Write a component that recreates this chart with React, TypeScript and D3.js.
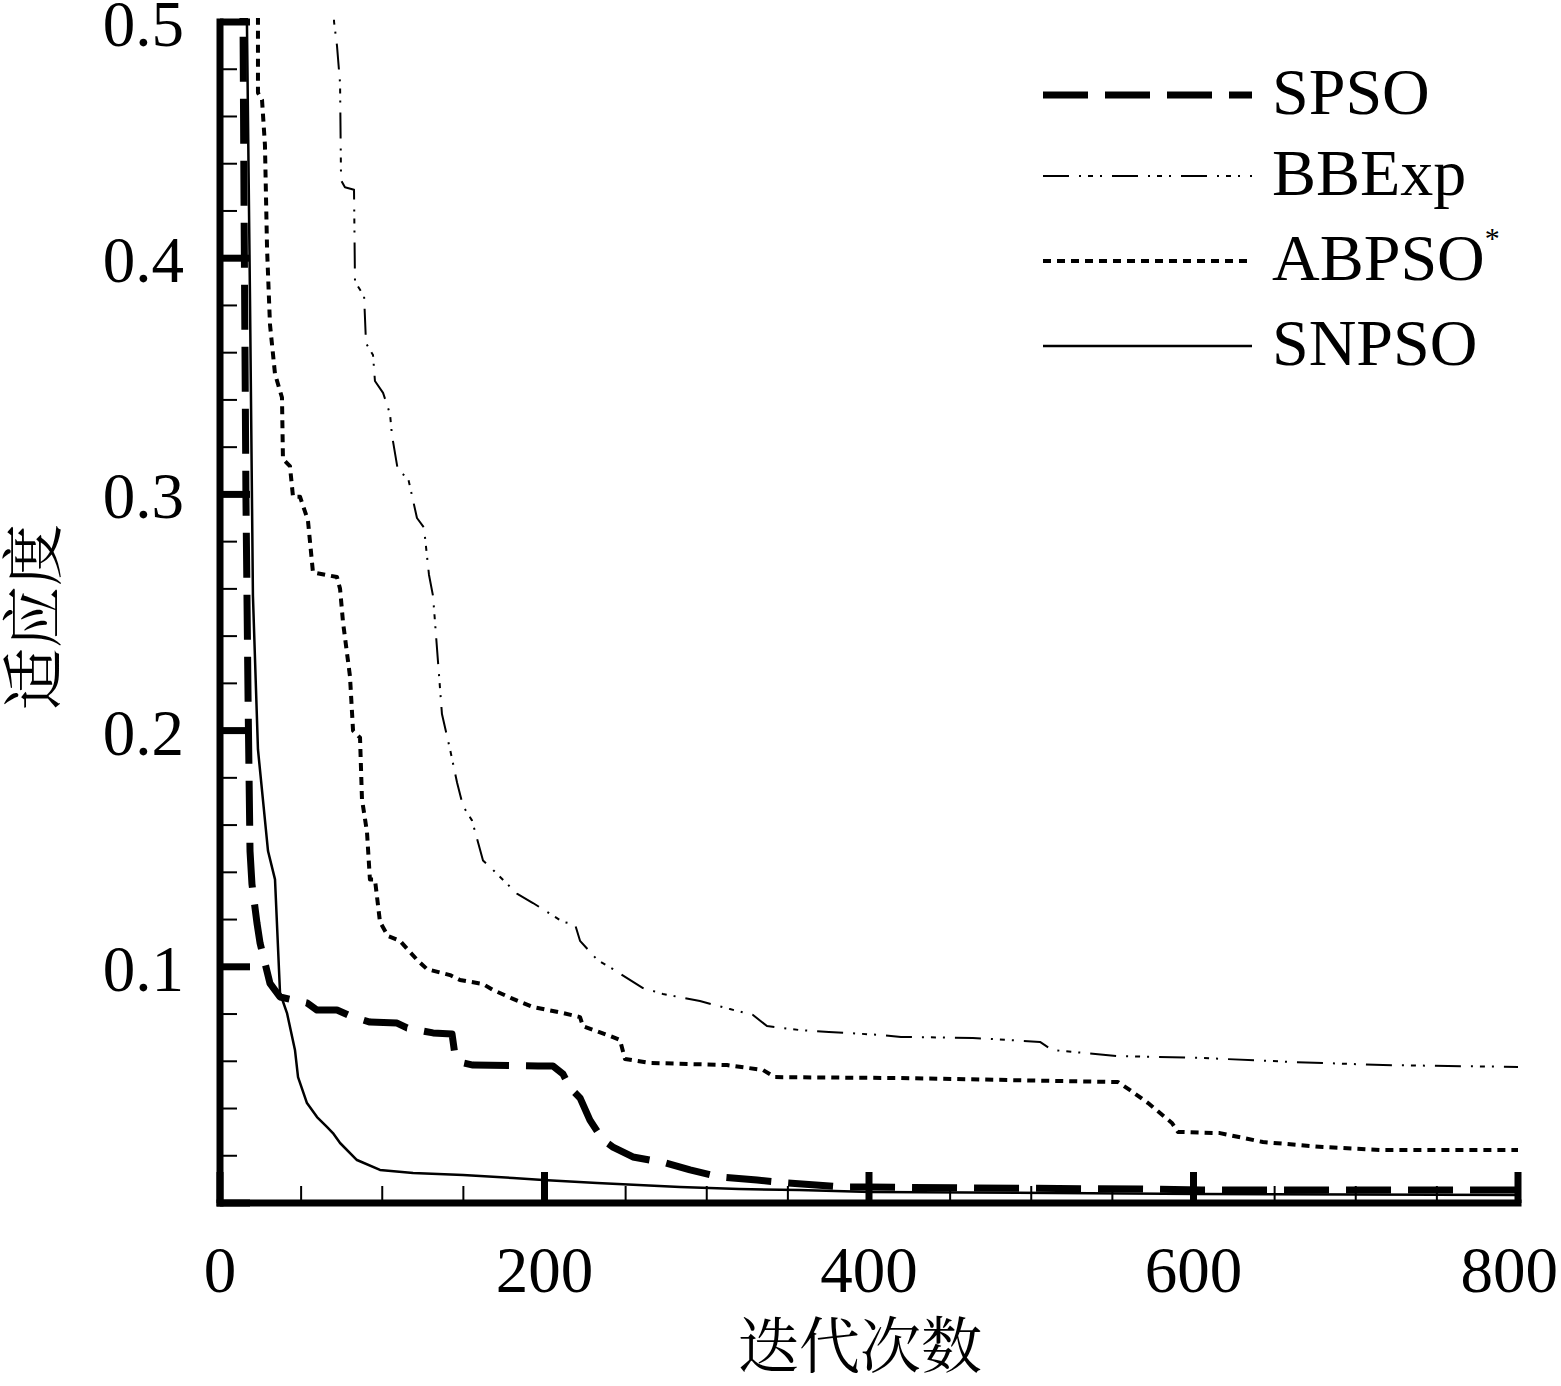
import React from "react";
import * as d3 from "d3";

// ---- data (iteration, fitness) ----
const xTickLabels = [0, 200, 400, 600, 800];
const yTickLabels = [0.1, 0.2, 0.3, 0.4, 0.5];
const seriesNames = ["SPSO", "BBExp", "ABPSO", "SNPSO"];

const spso: [number, number][] = [
  [13.5, 0.52], [14.2, 0.5], [14.8, 0.425], [16, 0.298], [17.3, 0.213], [18.5, 0.149],
  [19.7, 0.135], [22.8, 0.1185], [24.7, 0.11], [30.8, 0.093], [37, 0.0872],
  [53.6, 0.0847], [59.8, 0.0817], [72.1, 0.0817], [82, 0.0787], [92.4, 0.0766],
  [109.1, 0.0762], [115.3, 0.0741], [131.3, 0.072], [143, 0.0716], [144.8, 0.0627],
  [149.8, 0.0593], [155.9, 0.0584], [196, 0.058], [205.2, 0.058], [211.4, 0.0546],
  [215.7, 0.0487], [221.9, 0.0445], [228, 0.0351], [236, 0.0267], [242.2, 0.0237],
  [254.5, 0.0195], [274.9, 0.0169], [289.7, 0.014], [308.2, 0.011], [331, 0.0097],
  [349.5, 0.0085], [382.7, 0.0068], [399.4, 0.0068], [456.7, 0.0064], [568.3, 0.0059],
  [605.2, 0.0055], [800, 0.0055],
];

const bbexp: [number, number][] = [
  [69.5, 0.52], [70.3, 0.5], [72.1, 0.49], [74, 0.474], [74.6, 0.433], [77, 0.43],
  [82.6, 0.429], [83.2, 0.39], [88.8, 0.384], [90, 0.364], [94.3, 0.359], [95.5, 0.348],
  [100.5, 0.343], [104.8, 0.334], [106, 0.325], [109.7, 0.31], [115.9, 0.307],
  [121.4, 0.29], [125.7, 0.286], [128.8, 0.266], [131.3, 0.257], [136.8, 0.207],
  [141.8, 0.192], [146.1, 0.178], [149.8, 0.168], [155.3, 0.162], [162.1, 0.145],
  [168.3, 0.141], [183, 0.131], [192.9, 0.127], [211.4, 0.119], [218.8, 0.118],
  [221.9, 0.111], [232.4, 0.103], [242.2, 0.099], [260.7, 0.091], [273, 0.0885],
  [295.8, 0.0855], [314.3, 0.0821], [328.5, 0.0796], [337.1, 0.0749], [357.5, 0.0732],
  [375.3, 0.0724], [408.6, 0.0711], [419.7, 0.0703], [464, 0.0699], [505.4, 0.0682],
  [512.8, 0.0648], [553.5, 0.0622], [605.2, 0.0614], [661.3, 0.0597], [716.8, 0.0584],
  [800, 0.0576],
];

const abpso: [number, number][] = [
  [23.4, 0.52], [23.4, 0.47], [25.9, 0.467], [27.7, 0.448], [29, 0.404], [30.8, 0.372],
  [33.9, 0.351], [38.2, 0.341], [38.8, 0.315], [43.1, 0.312], [45, 0.299], [49.3, 0.299],
  [54.2, 0.289], [57.3, 0.267], [72.1, 0.265], [74, 0.26], [75.8, 0.246], [80.1, 0.223],
  [82, 0.2], [86.3, 0.197], [87.5, 0.171], [90.6, 0.157], [92.4, 0.137], [95.5, 0.137],
  [98.6, 0.119], [103.5, 0.113], [110.9, 0.111], [121.4, 0.103], [127.6, 0.099],
  [141.8, 0.0965], [147.9, 0.0944], [162.1, 0.0927], [168.3, 0.0902], [180.6, 0.0864],
  [192.9, 0.083], [211.4, 0.0804], [221.9, 0.0787], [223.7, 0.0749], [240.4, 0.0707],
  [246.5, 0.069], [249.6, 0.061], [265, 0.0593], [312.5, 0.0584], [334.7, 0.0563],
  [342, 0.0533], [419.7, 0.0529], [553.5, 0.0512], [560.9, 0.0478], [572, 0.0423],
  [586.7, 0.0339], [590.4, 0.0301], [616.3, 0.0296], [642.8, 0.0258], [679.8, 0.0237],
  [716.8, 0.0224], [800, 0.0224],
];

const snpso: [number, number][] = [
  [16.3, 0.52], [16.6, 0.5], [18.5, 0.382], [20.3, 0.257], [23.4, 0.192], [29.6, 0.149],
  [33.9, 0.137], [37, 0.0889], [41.3, 0.0804], [46.2, 0.0648], [48.1, 0.0533],
  [53.6, 0.0423], [59.8, 0.0364], [65.9, 0.0322], [69.6, 0.0296], [74, 0.0254],
  [84.4, 0.0182], [98.6, 0.014], [119, 0.0127], [149.8, 0.0119], [180.6, 0.0106],
  [199.1, 0.0097], [232.4, 0.0085], [283.5, 0.0068], [319.9, 0.0059], [356.9, 0.0055],
  [401.2, 0.0047], [604, 0.0038], [800, 0.0034],
];

const SERIF = "'Liberation Serif', 'Times New Roman', serif";
const CJK = "'Noto Serif CJK SC', 'Noto Sans CJK SC', serif";

const styles = [
  { data: spso, width: 7, dash: "45 17" },
  { data: bbexp, width: 2, dash: "26 10 2 7 5 7 2 10" },
  { data: abpso, width: 4, dash: "8 6" },
  { data: snpso, width: 2.5, dash: "" },
];

export default function App() {
  const W = 1561;
  const H = 1386;
  const x = d3.scaleLinear().domain([0, 800]).range([220, 1518]);
  const y = d3.scaleLinear().domain([0, 0.5]).range([1203, 22]);
  const line = d3
    .line<[number, number]>()
    .x((d) => x(d[0]))
    .y((d) => y(d[1]));

  const xMinor = d3.range(0, 801, 50);
  const yMinor = d3.range(0, 26).map((k) => +(k * 0.02).toFixed(2));

  const legendY = [95, 176, 261, 346];
  const lastX = xTickLabels[xTickLabels.length - 1];

  return (
    <svg
      width={W}
      height={H}
      style={{ position: "absolute", left: 0, top: 0, background: "#fff" }}
    >
      <defs>
        <clipPath id="plot">
          <rect x={220} y={18} width={1302} height={1190} />
        </clipPath>
      </defs>

      {/* series */}
      <g clipPath="url(#plot)" fill="none" stroke="#000">
        {styles.map((s, i) => (
          <path
            key={i}
            d={line(s.data) || ""}
            strokeWidth={s.width}
            strokeDasharray={s.dash || undefined}
            strokeLinejoin="round"
          />
        ))}
      </g>

      {/* ticks and axis lines */}
      <g stroke="#000">
        {xMinor.map((v) => {
          const major = v % 200 === 0;
          return (
            <line
              key={"x" + v}
              x1={x(v)}
              x2={x(v)}
              y1={1203}
              y2={major ? 1172 : 1186}
              strokeWidth={major ? 7 : 2}
            />
          );
        })}
        {yMinor.map((v) => {
          const major = Math.abs(v * 10 - Math.round(v * 10)) < 1e-6;
          return (
            <line
              key={"y" + v}
              x1={220}
              x2={major ? 250 : 237}
              y1={y(v)}
              y2={y(v)}
              strokeWidth={major ? 7 : 2}
            />
          );
        })}
        <line x1={220} x2={220} y1={18.5} y2={1206.5} strokeWidth={7} />
        <line x1={216.5} x2={1521.5} y1={1203} y2={1203} strokeWidth={7} />
      </g>

      {/* tick labels */}
      <g fontFamily={SERIF} fontSize={65} fill="#000">
        {xTickLabels.map((v) =>
          v === lastX ? (
            <text key={"xl" + v} x={W - 3} y={1292} textAnchor="end">
              {v}
            </text>
          ) : (
            <text key={"xl" + v} x={x(v)} y={1292} textAnchor="middle">
              {v}
            </text>
          )
        )}
        {yTickLabels.map((v) => (
          <text key={"yl" + v} x={184} y={y(v) + 24} textAnchor="end">
            {v.toFixed(1)}
          </text>
        ))}
      </g>

      {/* axis titles */}
      <text
        x={860}
        y={1368}
        textAnchor="middle"
        fontFamily={CJK}
        fontSize={61}
        fill="#000"
      >
        迭代次数
      </text>
      <text
        transform="translate(56,617) rotate(-90)"
        textAnchor="middle"
        fontFamily={CJK}
        fontSize={62}
        fill="#000"
      >
        适应度
      </text>

      {/* legend */}
      <g>
        {styles.map((s, i) => (
          <g key={"lg" + i}>
            <line
              x1={1043}
              x2={1252}
              y1={legendY[i]}
              y2={legendY[i]}
              stroke="#000"
              strokeWidth={s.width}
              strokeDasharray={s.dash || undefined}
            />
            <text
              x={1272}
              y={legendY[i] + 19}
              fontFamily={SERIF}
              fontSize={66}
              fill="#000"
            >
              {seriesNames[i]}
              {i === 2 ? (
                <tspan fontSize={30} dy={-32}>
                  *
                </tspan>
              ) : null}
            </text>
          </g>
        ))}
      </g>
    </svg>
  );
}
